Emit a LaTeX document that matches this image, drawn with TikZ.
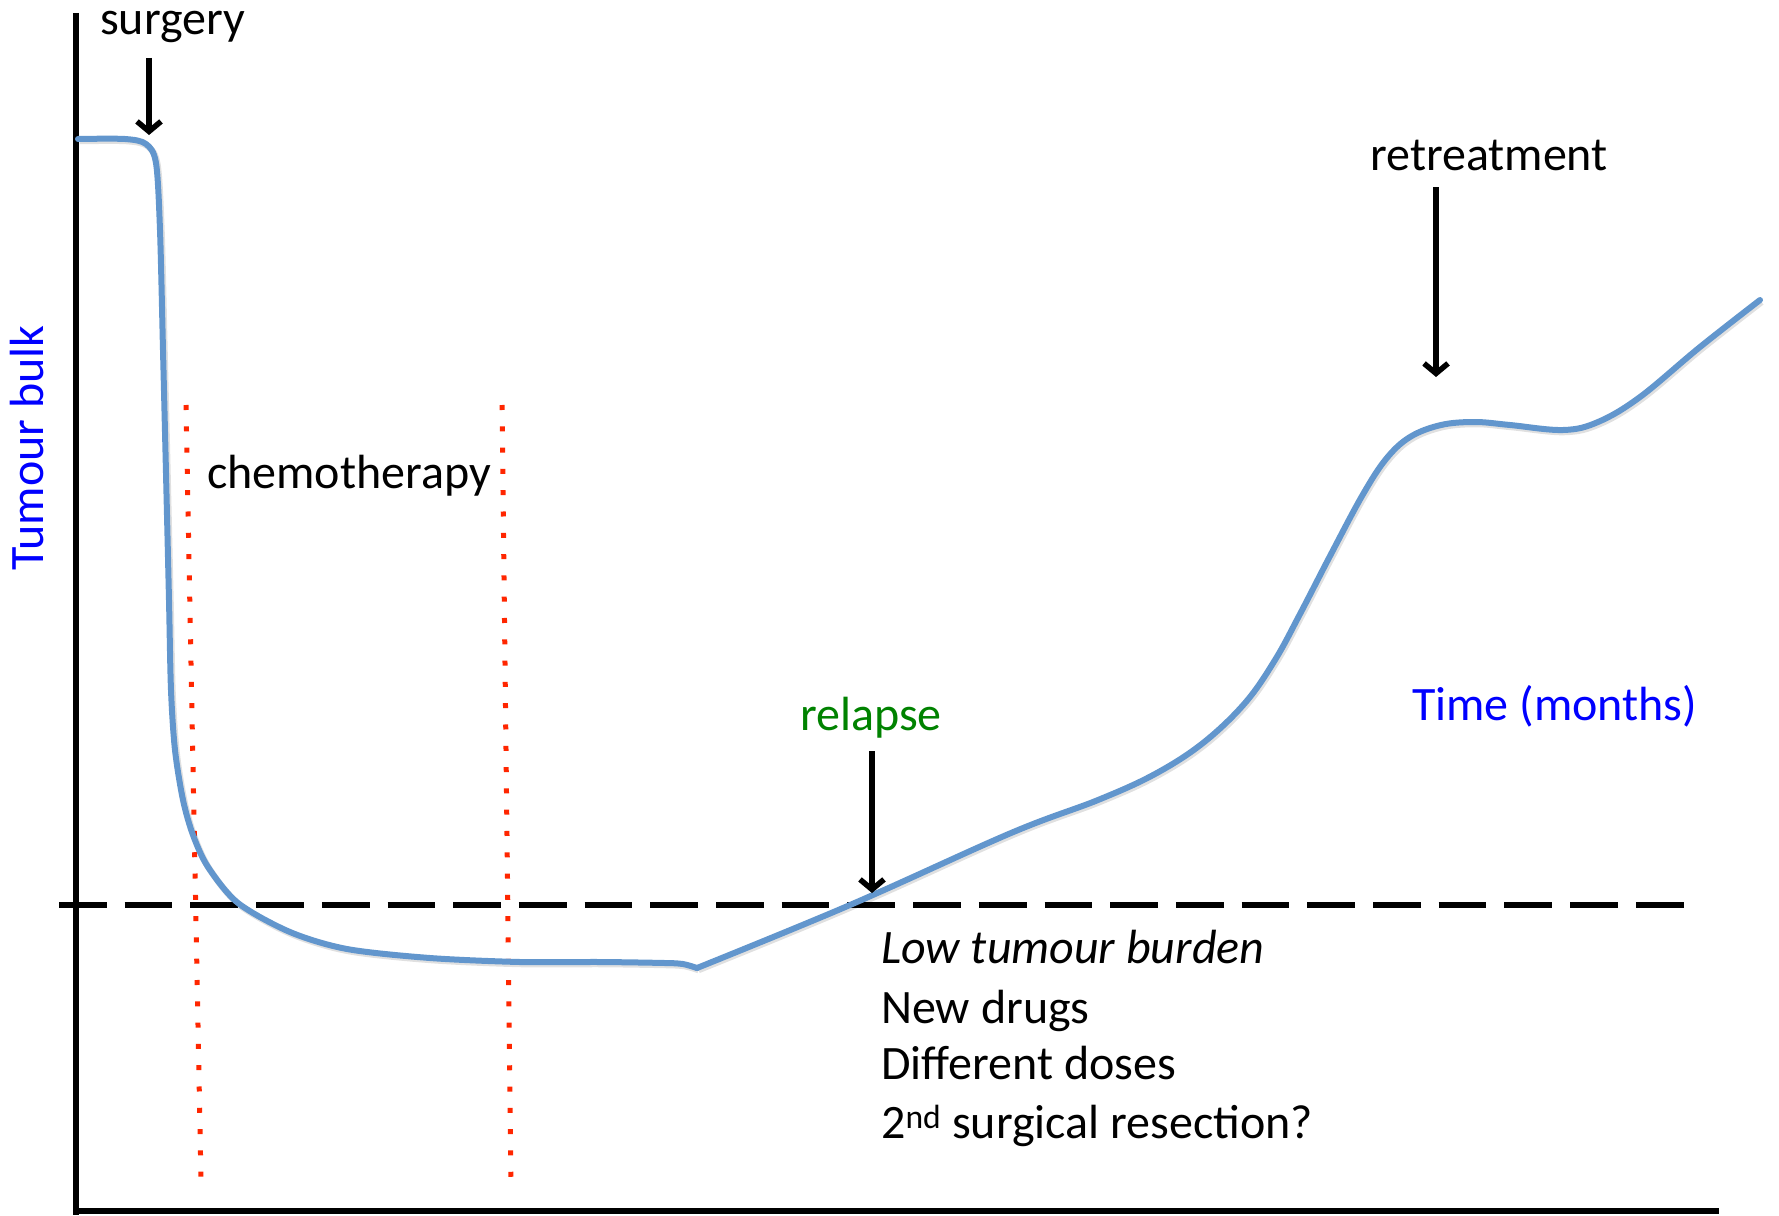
\documentclass[tikz,border=0pt]{standalone}
\usepackage{fontspec}
\setmainfont{Carlito}
\usetikzlibrary{arrows.meta}
\definecolor{curveblue}{RGB}{98,150,205}
\definecolor{dotred}{RGB}{255,38,0}
\definecolor{relgreen}{RGB}{0,130,0}
\definecolor{labblue}{RGB}{0,0,255}
\tikzset{
  axisline/.style={line width=6.5pt, black},
  threshold/.style={line width=6pt, black, dash pattern=on 47.7pt off 18pt},
  reddots/.style={line width=5pt, dotred, dash pattern=on 5pt off 16.3pt},
  tumourcurve/.style={line width=6pt, curveblue, line join=round, line cap=round},
  curveshadow/.style={line width=6.5pt, black, opacity=0.12, line join=round},
  downarrow/.style={line width=5.5pt, black, -{Straight Barb[length=10pt,width=24pt]}},
  lbl/.style={inner sep=0pt, font=\fontsize{48}{57}\selectfont},
}
\newcommand{\curvepartA}{plot[smooth, tension=0.5] coordinates {(78,139) (125,139) (146,144) (156,163) (160,230) (163,350) (166,473) (169,600) (171,690) (175,750) (183,800) (193,835) (208,867) (238,903) (290,932) (347,949) (430,958) (520,962) (600,962) (665,963) (683,964) (697,968)}}
\newcommand{\curvepartB}{plot[smooth, tension=0.6] coordinates {(697,968) (850,905) (1011,833) (1098,800) (1155,774) (1203,743) (1245,703) (1275,660) (1300,614) (1330,556) (1362,496) (1386,459) (1410,437) (1441,425) (1475,422) (1510,425) (1563,430) (1598,422) (1640,397) (1700,347) (1760,300)}}
\begin{document}
\begin{tikzpicture}[x=1pt, y=-1pt]
\useasboundingbox (0,0) rectangle (1779,1215);
% axes
\draw[axisline] (76,13) -- (76,1215);
\draw[axisline] (73,1211) -- (1719,1211);
% threshold
\draw[threshold] (59,905) -- (1687,905);
% chemotherapy bounds
\draw[reddots] (186,405) -- (201,1180);
\draw[reddots] (502,405) -- (511,1180);
% tumour curve
\begin{scope}[shift={(1.5,2)}]
\draw[curveshadow] \curvepartA;
\draw[curveshadow] \curvepartB;
\end{scope}
\draw[tumourcurve] \curvepartA;
\draw[tumourcurve] \curvepartB;
% labels
\node[lbl, anchor=base west] (surg) at (100,35) {surgery};
\node[lbl, anchor=base west] (chemo) at (207,488) {chemotherapy};
\node[lbl, anchor=base west, text=relgreen] (rel) at (800,730) {relapse};
\node[lbl, anchor=base west] (retr) at (1370,170) {retreatment};
\node[lbl, anchor=base west, text=labblue] (time) at (1412,720) {Time (months)};
\node[lbl, anchor=base, rotate=90, text=labblue] (bulk) at (43,448) {Tumour bulk};
\node[lbl, anchor=base west] (low) at (881,963) {\itshape Low tumour burden};
\node[lbl, anchor=base west] (drugs) at (881,1023) {New drugs};
\node[lbl, anchor=base west] (doses) at (881,1079) {Different doses};
\node[lbl, anchor=base west] (resect) at (881,1138) {2\textsuperscript{nd} surgical resection?};
% arrows
\coordinate (surgS) at (149,58);
\coordinate (surgT) at (149,135);
\coordinate (relS) at (872,751);
\coordinate (relT) at (872,893);
\coordinate (retS) at (1436,187);
\coordinate (retT) at (1436,377);
\draw[downarrow] (surgS) -- (surgT);
\draw[downarrow] (relS) -- (relT);
\draw[downarrow] (retS) -- (retT);
\end{tikzpicture}
\end{document}
